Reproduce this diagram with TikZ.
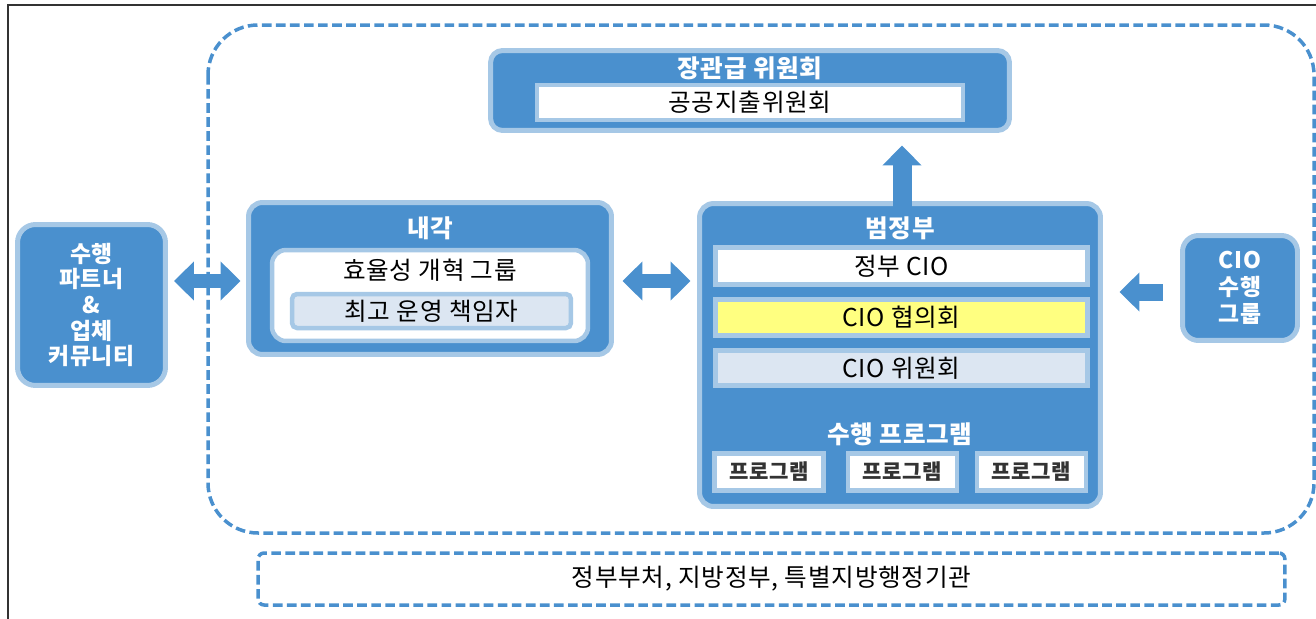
\documentclass[tikz,border=0pt]{standalone}
\usepackage{fontspec}
\setmainfont{Noto Sans CJK KR}[LetterSpace=3]
\definecolor{govblue}{HTML}{4A90CE}
\definecolor{rimblue}{HTML}{A6C8E6}
\definecolor{paleblue}{HTML}{DCE6F2}
\definecolor{notice}{HTML}{FFFF80}
\usetikzlibrary{arrows.meta, positioning, calc}
\newcommand{\flow}[4]
{
	\draw[line width=#2, govblue, #1] (#3) -- (#4)
}

\begin{document}
\begin{tikzpicture}[x=0.02cm, y=-0.02cm,
	>={Triangle[width=0.76cm, length=0.4cm]},
	every node/.append style={inner sep=0pt,
		font=\fontsize{14pt}{17pt}\selectfont},
	outer/.style={shape=rectangle, fill=govblue, draw=rimblue,
		line width=0.1cm, rounded corners=0.28cm},
	inner/.style={shape=rectangle, draw=rimblue, line width=0.09cm,
		minimum height=0.72cm},
	title/.style={text=white, font=\fontsize{14pt}{17pt}\selectfont\bfseries},
	zone/.style={draw=govblue, line width=0.07cm,
		dash pattern=on 5.5pt off 2.5pt}]

	\useasboundingbox (0,0) rectangle (1316,619);
	\draw[black!80, line width=0.6pt] (8,619) -- (8,5) -- (1316,5);

	% dashed zones
	\draw[zone, rounded corners=1cm] (208,25) rectangle (1314,533);
	\node[zone, rounded corners=0.12cm, minimum width=20.54cm,
		minimum height=1.04cm] (local) at (771.5,579) {정부부처, 지방정부, 특별지방행정기관};

	% left and right groups
	\node[outer, minimum width=2.96cm, minimum height=3.22cm, rounded corners=0.36cm,
		align=center, text=white, font=\fontsize{13pt}{14.6pt}\selectfont\bfseries]
		(partner) at (91.5,305) {수행\\파트너\\\&\\업체\\커뮤니티};
	\node[outer, minimum width=2.3cm, minimum height=2.1cm, rounded corners=0.32cm,
		align=center, text=white, font=\fontsize{13pt}{15.3pt}\selectfont\bfseries]
		(ciogroup) at (1240,288) {CIO\\수행\\그룹};

	% cabinet
	\node[outer, minimum width=7.26cm, minimum height=3.04cm] (cabinet) at (430,278.5) {};
	\node[title] (cabinettitle) at (430,228) {내각};
	\node[inner, fill=white, rounded corners=0.28cm, minimum width=6.32cm,
		minimum height=1.82cm] (efficiency) at (430,295.5) {};
	\node (efficiencytext) at (430,270) {효율성 개혁 그룹};
	\node[inner, fill=paleblue, rounded corners=0.1cm, minimum width=5.58cm,
		minimum height=0.68cm] (coo) at (431.5,311) {최고 운영 책임자};

	% whole of government
	\node[outer, minimum width=8.02cm, minimum height=6.06cm] (gov) at (900,355) {};
	\node[title] (govtitle) at (900,228) {범정부};
	\node[inner, fill=white, minimum width=7.44cm, minimum height=0.74cm] (gcio) at (901.5,266) {정부 CIO};
	\node[inner, fill=notice, minimum width=7.44cm] (ciocouncil) at (901.5,317.5) {CIO 협의회};
	\node[inner, fill=paleblue, minimum width=7.44cm, minimum height=0.7cm] (ciocommittee) at (901.5,368) {CIO 위원회};
	\node[title] (progtitle) at (900,434) {수행 프로그램};
	\foreach \x [count=\i] in {769,902.5,1031.5}
		\node[inner, fill=white, minimum width=2.18cm, minimum height=0.74cm,
			font=\fontsize{12pt}{14pt}\selectfont\bfseries, text=black!80] (prog\i) at (\x,472) {프로그램};

	% ministerial committee
	\node[outer, minimum width=10.38cm, minimum height=1.6cm, rounded corners=0.24cm] (minister) at (750,90.5) {};
	\node[title] (ministertitle) at (750,68) {장관급 위원회};
	\node[inner, fill=white, minimum width=8.52cm, minimum height=0.7cm] (spending) at (750,102.5) {공공지출위원회};

	% block arrows
	\flow{<->, shorten <=0.12cm, shorten >=0.11cm}{0.28cm}{$(partner.east)+(0,-24)$}{$(partner.east -| cabinet.west)+(0,-24)$};
	\flow{<->, shorten <=0.17cm, shorten >=0.13cm}{0.28cm}{$(cabinet.east)+(0,2.5)$}{$(cabinet.east -| gov.west)+(0,2.5)$};
	\flow{->, shorten <=-0.17cm, shorten >=0.25cm}{0.38cm}{$(gov.north)+(2,0)$}{$(gov.north |- minister.south)+(2,0)$};
	\flow{->, shorten <=0.35cm, shorten >=0.33cm}{0.34cm}{$(ciogroup.west)+(0,4)$}{$(ciogroup.west -| gov.east)+(0,4)$};
\end{tikzpicture}
\end{document}
